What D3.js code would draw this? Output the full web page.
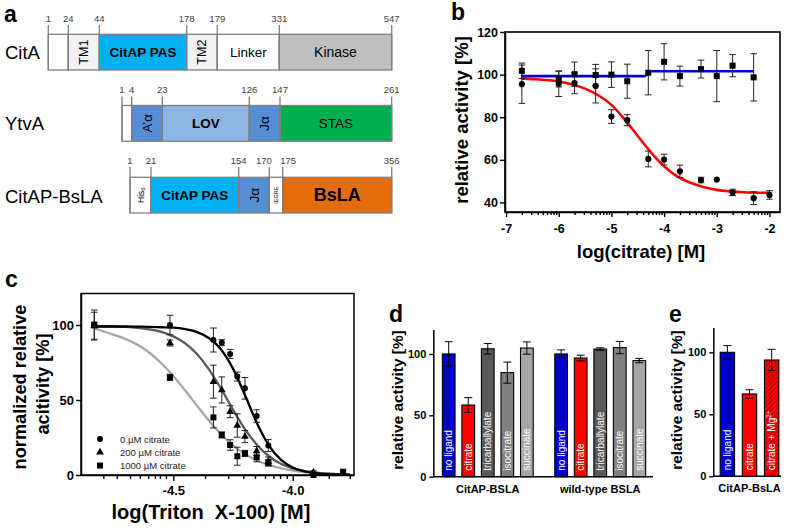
<!DOCTYPE html>
<html>
<head>
<meta charset="utf-8">
<script src="https://cdn.jsdelivr.net/npm/d3@7"></script>
<style>
body { margin: 0; background: #fff; }
svg { display: block; font-family: "Liberation Sans", Arial, sans-serif; }
</style>
</head>
<body>
<svg id="fig" width="787" height="531"></svg>
<script>
// ---------- data ----------
// a: domain architecture (residue numbers at domain borders)
var citaBounds = [1, 24, 44, 178, 179, 331, 547];
var citaDomains = ["", "TM1", "CitAP PAS", "TM2", "Linker", "Kinase"];
var ytvaBounds = [1, 4, 23, 126, 147, 261];
var ytvaDomains = ["", "A\u2019\u03b1", "LOV", "J\u03b1", "STAS"];
var fusionBounds = [1, 21, 154, 170, 175, 356];
var fusionDomains = ["His6", "CitAP PAS", "J\u03b1", "IEGRE", "BsLA"];

// b: activity vs log(citrate)
var bLogX = [-6.7, -6, -5.7, -5.3, -5, -4.7, -4.3, -4, -3.7, -3.3, -3, -2.7, -2.3, -2];
var bFusionVals = [95.5, 95.7, 96, 94.7, 80.3, 78.6, 60.4, 60.1, 54.6, 50.5, 50.7, 44.7, 42, 43.5];
var bFusionErr = [9, 6, 5, 8, 3.2, 2.6, 3.7, 2.5, 2.9, 1.3, 0, 1.5, 3, 2];
var bWtVals = [101.8, 97.9, 100.2, 99.8, 100, 96.9, 100.9, 106, 99.3, 102.6, 99.3, 104.2, 98.7];
var bWtErr = [3.6, 3.7, 5.7, 5, 6, 8, 10.4, 8.5, 4.7, 4.2, 12, 5.2, 11.1];
var bFusionFitX = [-6.7, -6.5, -6, -5.5, -5.25, -5, -4.75, -4.5, -4.25, -4, -3.75, -3.5, -3.25, -3, -2.5, -2];
var bFusionFitY = [98.1, 97.9, 96.8, 93.4, 90.3, 85.8, 79.0, 71.2, 63.5, 57.0, 52.2, 49.2, 47.2, 45.9, 44.8, 44.5];
var bWtFitX = [-6.7, -4.37, -4.27, -2.3];
var bWtFitY = [99.3, 99.3, 101.6, 101.6];
var bXTicks = [-7, -6, -5, -4, -3, -2];
var bYTicks = [40, 60, 80, 100, 120];

// c: activity vs log(Triton X-100)
var cLogX = [-4.831, -4.514, -4.332, -4.297, -4.262, -4.232, -4.2, -4.151, -4.102, -3.913];
var cSqLogX = [-4.831, -4.514, -4.332, -4.297, -4.262, -4.232, -4.2, -4.151, -4.102, -3.913, -3.789];
var c0Vals = [100, 100, 90, 88.2, 80.7, 65.6, 57.8, 39.3, 19.6, 0.5];
var c0Err = [10, 6.5, 8, 2, 3, 3, 7.2, 4.2, 4, 0.5];
var c200Vals = [99.5, 88, 62.2, 56.7, 42.2, 33, 25.6, 16, 9, 1.8];
var c200Err = [9, 2, 11, 8.7, 4, 7.8, 4, 3, 3, 1];
var c1000Vals = [100, 65.1, 38.4, 26.7, 20, 12.5, 14.4, 11.8, 8.2, 0, 2.2];
var c1000Err = [2, 2, 7, 2, 3.5, 6, 2, 3, 2, 0, 1];
var cFitX = [-4.83, -4.75, -4.7, -4.65, -4.6, -4.55, -4.5, -4.45, -4.4, -4.35, -4.3, -4.25, -4.2, -4.15, -4.1, -4.05, -4.0, -3.95, -3.9, -3.85, -3.76];
var c0Fit = [99, 99, 99, 98.9, 98.8, 98.5, 98.2, 97.2, 95.3, 91.2, 83.7, 70.9, 53.3, 34.7, 19.8, 10.2, 5.0, 2.4, 1.1, 0.5, 0.1];
var c200Fit = [99.3, 99.0, 98.7, 98.1, 97.1, 95.4, 92.4, 87.7, 80.5, 70.3, 57.5, 43.6, 30.6, 20.1, 12.5, 7.5, 4.4, 2.6, 1.5, 0.9, 0.3];
var c1000Fit = [97.8, 93.5, 90.7, 86.8, 81.5, 74.5, 66.0, 56.3, 46.1, 36.0, 27.2, 19.8, 14.0, 9.7, 6.7, 4.5, 3.0, 2.0, 1.3, 0.9, 0.4];
var cLegend = ["0 \u00b5M citrate", "200 \u00b5M citrate", "1000 \u00b5M citrate"];
var cXTicks = [-4.5, -4.0];
var cXMinor = [-4.793, -4.737, -4.681, -4.640, -4.605, -4.577, -4.556, -4.531,
               -4.367, -4.270, -4.207, -4.158, -4.116, -4.081, -4.053, -4.025, -3.849, -3.761];
var cYTicks = [0, 50, 100];

// d: ligand specificity
var dGroups = ["CitAP-BSLA", "wild-type BSLA"];
var dLigands = ["no ligand", "citrate", "tricarballylate", "isocitrate", "succinate"];
var dFusionVals = [100, 58.4, 104.2, 84.8, 104.8];
var dFusionErr = [10, 6, 4.3, 8.6, 5];
var dWtVals = [100, 96.7, 104, 105.2, 94.6];
var dWtErr = [3.3, 2.3, 1, 5, 1.8];

// e: Mg2+ effect
var eGroup = "CitAP-BsLA";
var eLigands = ["no ligand", "citrate", "citrate + Mg2+"];
var eVals = [100, 66.4, 93.8];
var eErr = [5.4, 3.4, 8.6];
var barYTicks = [0, 50, 100];

// ---------- helpers ----------
var svg = d3.select("#fig");
var defs = svg.append("defs");
var hatch = defs.append("pattern").attr("id", "hatch")
    .attr("patternUnits", "userSpaceOnUse").attr("width", 3.2).attr("height", 3.2)
    .attr("patternTransform", "rotate(45)");
hatch.append("rect").attr("width", 3.2).attr("height", 3.2).attr("fill", "#ff0000");
hatch.append("line").attr("x1", 0).attr("y1", 0).attr("x2", 0).attr("y2", 3.2)
    .attr("stroke", "#8b0000").attr("stroke-width", 1.3);

function panelLetter(t, x, y) {
    svg.append("text").attr("x", x).attr("y", y).attr("font-size", 23)
        .attr("font-weight", "bold").text(t);
}

function styleAxis(g, size) {
    g.attr("font-family", null).attr("font-size", size).attr("font-weight", "bold");
    g.selectAll("text").attr("fill", "#000");
    g.selectAll("line").attr("stroke", "#000").attr("stroke-width", 1.4);
    g.select(".domain").attr("stroke", "#000").attr("stroke-width", 1.5);
}

function errorBars(g, pts, x, y, cap, color) {
    var eb = g.append("g").attr("stroke", color || "#000").attr("stroke-width", 1).attr("fill", "none");
    pts.filter(function(p) { return p.e > 0; }).forEach(function(p) {
        var cx = x(p.x), y1 = y(p.v - p.e), y2 = y(p.v + p.e);
        eb.append("line").attr("x1", cx).attr("x2", cx).attr("y1", y1).attr("y2", y2);
        eb.append("line").attr("x1", cx - cap).attr("x2", cx + cap).attr("y1", y1).attr("y2", y1);
        eb.append("line").attr("x1", cx - cap).attr("x2", cx + cap).attr("y1", y2).attr("y2", y2);
    });
}

function zip(xs, vs, es) {
    return vs.map(function(v, i) { return {x: xs[i], v: v, e: es ? es[i] : 0}; });
}

function rotLabel(text, x, y, size) {
    return svg.append("text").attr("transform", "translate(" + x + "," + y + ") rotate(-90)")
        .attr("text-anchor", "middle").attr("font-size", size).attr("font-weight", "bold")
        .text(text);
}

// ---------- panel a ----------
panelLetter("a", 4, 22);

var domainStyle = {
    "":          {fill: "#ffffff"},
    "TM1":       {fill: "#f2f2f2", size: 12.5, rot: true},
    "TM2":       {fill: "#f2f2f2", size: 12.5, rot: true},
    "CitAP PAS": {fill: "#00b0f0", size: 13.5, bold: true},
    "Linker":    {fill: "#ffffff", size: 13.5},
    "Kinase":    {fill: "#bfbfbf", size: 14},
    "A\u2019\u03b1": {fill: "#558ed5", size: 13, rot: true},
    "LOV":       {fill: "#8eb4e3", size: 13.5, bold: true},
    "J\u03b1":   {fill: "#558ed5", size: 13.5, rot: true},
    "STAS":      {fill: "#00b050", size: 13.5},
    "His6":      {fill: "#ffffff", size: 8.5, rot: true},
    "IEGRE":     {fill: "#ffffff", size: 5.5, rot: true},
    "BsLA":      {fill: "#e46c0a", size: 18, bold: true}
};

var proteins = [
    {name: "CitA", bounds: citaBounds, domains: citaDomains,
     xs: [48.3, 68.3, 99.3, 186.7, 217.3, 279.3, 391.7], top: 34.3, numY: 21.5, tickTop: 25, nameY: 59},
    {name: "YtvA", bounds: ytvaBounds, domains: ytvaDomains,
     xs: [122, 131.7, 162.3, 249.3, 280, 391.7], top: 105.5, numY: 93, tickTop: 96.5, nameY: 130},
    {name: "CitAP-BsLA", bounds: fusionBounds, domains: fusionDomains,
     xs: [130, 151, 238.7, 269.3, 282.7, 391.7], top: 177.3, numY: 163.5, tickTop: 167, nameY: 203}
];
var barH = 35.7;

proteins.forEach(function(p) {
    var sx = d3.scaleLinear().domain(p.bounds).range(p.xs);
    var g = svg.append("g");
    g.append("text").attr("x", 5).attr("y", p.nameY).attr("font-size", 18.5).text(p.name);

    p.domains.forEach(function(dn, i) {
        var st = domainStyle[dn];
        var x0 = sx(p.bounds[i]), x1 = sx(p.bounds[i + 1]);
        g.append("rect").attr("x", x0).attr("y", p.top).attr("width", x1 - x0).attr("height", barH)
            .attr("fill", st.fill).attr("stroke", "#7f7f7f").attr("stroke-width", 1.3);
        if (!dn) return;
        var cx = (x0 + x1) / 2, cy = p.top + barH / 2;
        var t = g.append("text").attr("text-anchor", "middle").attr("dominant-baseline", "central")
            .attr("font-size", st.size).attr("font-weight", st.bold ? "bold" : "normal")
            .attr("transform", "translate(" + cx + "," + cy + ")" + (st.rot ? " rotate(-90)" : ""));
        if (dn === "His6") {
            t.append("tspan").text("His");
            t.append("tspan").attr("font-size", 6).attr("dy", 2.5).text("6");
        } else {
            t.text(dn);
        }
    });

    p.bounds.forEach(function(b, i) {
        var x = sx(b);
        g.append("line").attr("x1", x).attr("x2", x).attr("y1", p.tickTop).attr("y2", p.top + barH)
            .attr("stroke", "#7f7f7f").attr("stroke-width", 1.3);
        // close neighbours: push the two numbers apart
        var anchor = "middle", nx = x;
        var nextGap = i < p.bounds.length - 1 ? sx(p.bounds[i + 1]) - x : 99;
        var prevGap = i > 0 ? x - sx(p.bounds[i - 1]) : 99;
        if (nextGap < 18 && String(b).length > 1) { anchor = "end"; nx = x + 2.5; }
        else if (prevGap < 18 && String(b).length > 1) { anchor = "start"; nx = x - 2.5; }
        g.append("text").attr("x", nx).attr("y", p.numY).attr("text-anchor", anchor)
            .attr("font-size", 9.5).attr("fill", "#404040").text(b);
    });
});

// ---------- panel b ----------
panelLetter("b", 451, 20);
var bx = d3.scaleLog().domain([Math.pow(10, -7.02), Math.pow(10, -1.8)]).range([505, 780]);
var by = d3.scaleLinear().domain([35.5, 120]).range([212, 32]);
var bxl = function(lx) { return bx(Math.pow(10, lx)); };
var gb = svg.append("g");

var gbx = gb.append("g").attr("transform", "translate(0,212)")
    .call(d3.axisBottom(bx).tickValues(bXTicks.map(function(v) { return Math.pow(10, v); }))
        .tickSize(5).tickPadding(7).tickSizeOuter(0)
        .tickFormat(function(d) { return String(Math.round(Math.log10(d))); }));
styleAxis(gbx, 12.5);
var bMinor = bx.ticks().filter(function(d) {
    var l = Math.log10(d);
    return Math.abs(l - Math.round(l)) > 1e-6;
});
var gbm = gb.append("g").attr("transform", "translate(0,212)")
    .call(d3.axisBottom(bx).tickValues(bMinor).tickSize(3).tickFormat(""));
styleAxis(gbm, 10);
gbm.select(".domain").remove();

var gby = gb.append("g").attr("transform", "translate(505,0)")
    .call(d3.axisLeft(by).tickValues(bYTicks).tickSize(5).tickPadding(2).tickSizeOuter(0));
styleAxis(gby, 12.5);
gb.append("rect").attr("x", 505).attr("y", 32).attr("width", 275).attr("height", 180)
    .attr("fill", "none").attr("stroke", "#000").attr("stroke-width", 1.6);

var bLine = d3.line().x(function(d) { return bxl(d[0]); }).y(function(d) { return by(d[1]); })
    .curve(d3.curveMonotoneX);
gb.append("path").datum(d3.zip(bFusionFitX, bFusionFitY)).attr("d", bLine)
    .attr("fill", "none").attr("stroke", "#ff0000").attr("stroke-width", 2.6);
gb.append("path").datum(d3.zip(bWtFitX, bWtFitY)).attr("d", bLine)
    .attr("fill", "none").attr("stroke", "#0000cc").attr("stroke-width", 2.6);

var bFus = zip(bLogX, bFusionVals, bFusionErr);
var bWt = zip(bLogX, bWtVals, bWtErr);
errorBars(gb, bFus, bxl, by, 3.3, "#222");
errorBars(gb, bWt, bxl, by, 3.3, "#222");
gb.selectAll(".bc").data(bFus).enter().append("circle")
    .attr("cx", function(d) { return bxl(d.x); }).attr("cy", function(d) { return by(d.v); })
    .attr("r", 3.1).attr("fill", "#000");
gb.selectAll(".bs").data(bWt).enter().append("rect")
    .attr("x", function(d) { return bxl(d.x) - 3; }).attr("y", function(d) { return by(d.v) - 3; })
    .attr("width", 6).attr("height", 6).attr("fill", "#000");

svg.append("text").attr("x", 641).attr("y", 258).attr("text-anchor", "middle")
    .attr("font-size", 18.5).attr("font-weight", "bold").text("log(citrate) [M]");
rotLabel("relative activity [%]", 468, 120, 18.5);

// ---------- panel c ----------
panelLetter("c", 5, 287);
var cx = d3.scaleLinear().domain([-4.8865, -3.7433]).range([81, 354]);
var cy = d3.scaleLinear().domain([0, 121]).range([475, 293.5]);
var gc = svg.append("g");

var gcx = gc.append("g").attr("transform", "translate(0,475)")
    .call(d3.axisBottom(cx).tickValues(cXTicks).tickSize(6).tickPadding(5).tickSizeOuter(0)
        .tickFormat(function(d) { return d.toFixed(1); }));
styleAxis(gcx, 13);
var gcm = gc.append("g").attr("transform", "translate(0,475)")
    .call(d3.axisBottom(cx).tickValues(cXMinor).tickSize(4).tickFormat(""));
styleAxis(gcm, 10);
gcm.select(".domain").remove();
var gcy = gc.append("g").attr("transform", "translate(81,0)")
    .call(d3.axisLeft(cy).tickValues(cYTicks).tickSize(5).tickPadding(2).tickSizeOuter(0));
styleAxis(gcy, 13);
gc.append("rect").attr("x", 81).attr("y", 293.5).attr("width", 273).attr("height", 181.5)
    .attr("fill", "none").attr("stroke", "#000").attr("stroke-width", 1.5);

var cLine = d3.line().x(function(d) { return cx(d[0]); }).y(function(d) { return cy(d[1]); })
    .curve(d3.curveMonotoneX);
[[c1000Fit, "#a6a6a6"], [c200Fit, "#595959"], [c0Fit, "#000"]].forEach(function(f) {
    gc.append("path").datum(d3.zip(cFitX, f[0])).attr("d", cLine)
        .attr("fill", "none").attr("stroke", f[1]).attr("stroke-width", 2.3);
});

var c0 = zip(cLogX, c0Vals, c0Err), c200 = zip(cLogX, c200Vals, c200Err), c1000 = zip(cSqLogX, c1000Vals, c1000Err);
errorBars(gc, c0, cx, cy, 3.3, "#222");
errorBars(gc, c200, cx, cy, 3.3, "#222");
errorBars(gc, c1000, cx, cy, 3.3, "#222");
var tri = d3.symbol(d3.symbolTriangle).size(26);
function drawMarker(g, kind, x, y) {
    if (kind === 0) g.append("circle").attr("cx", x).attr("cy", y).attr("r", 3).attr("fill", "#000");
    else if (kind === 1) g.append("path").attr("d", tri()).attr("transform", "translate(" + x + "," + y + ")").attr("fill", "#000");
    else g.append("rect").attr("x", x - 3).attr("y", y - 3).attr("width", 6).attr("height", 6).attr("fill", "#000");
}
[c0, c200, c1000].forEach(function(s, k) {
    s.forEach(function(d) { drawMarker(gc, k, cx(d.x), cy(d.v)); });
});

cLegend.forEach(function(txt, i) {
    var ly = 439 + i * 13.3;
    drawMarker(gc, i, 100, ly);
    gc.append("text").attr("x", 120).attr("y", ly).attr("dominant-baseline", "central")
        .attr("font-size", 9.5).attr("fill", "#222").text(txt);
});

svg.append("text").attr("x", 211).attr("y", 519).attr("text-anchor", "middle")
    .attr("xml:space", "preserve").style("white-space", "pre")
    .attr("font-size", 20).attr("font-weight", "bold").text("log(Triton  X-100) [M]");
rotLabel("normalized relative", 26, 387, 18.2);
rotLabel("acitivity [%]", 49, 384, 18.2);

// ---------- bar panels d, e ----------
function barPanel(opts) {
    var g = svg.append("g");
    var y = d3.scaleLinear().domain([0, 120]).range([opts.y0, opts.yTop]);
    var x0 = d3.scaleBand().domain(opts.groups).range(opts.range).paddingInner(opts.groupPad || 0);
    var gy = g.append("g").attr("transform", "translate(" + opts.axisX + ",0)")
        .call(d3.axisLeft(y).tickValues(barYTicks).tickSize(4).tickPadding(3).tickSizeOuter(0));
    styleAxis(gy, 11);
    g.append("line").attr("x1", opts.axisX).attr("x2", opts.axisEnd).attr("y1", opts.y0).attr("y2", opts.y0)
        .attr("stroke", "#000").attr("stroke-width", 1.5);

    opts.groups.forEach(function(grp, gi) {
        var x1 = d3.scaleBand().domain(opts.ligands).range([x0(grp), x0(grp) + x0.bandwidth()])
            .paddingInner(0.35).paddingOuter(0.12);
        var vals = opts.vals[gi], errs = opts.errs[gi];
        opts.ligands.forEach(function(lig, i) {
            var bx0 = x1(lig), w = x1.bandwidth(), mid = bx0 + w / 2;
            g.append("rect").attr("x", bx0).attr("y", y(vals[i])).attr("width", w)
                .attr("height", opts.y0 - y(vals[i])).attr("fill", opts.fills[i])
                .attr("stroke", "#000").attr("stroke-width", 1.1);
            errorBars(g, [{x: mid, v: vals[i], e: errs[i]}], function(v) { return v; }, y, 4, "#000");
            var t = g.append("text").attr("transform", "translate(" + (mid + 3.6) + "," + (opts.y0 - 6) + ") rotate(-90)")
                .attr("font-size", 10).attr("fill", "#fff");
            if (lig === "citrate + Mg2+") {
                t.append("tspan").text("citrate + Mg");
                t.append("tspan").attr("font-size", 6.5).attr("dy", -4).text("2+");
            } else {
                t.text(lig);
            }
        });
        g.append("text").attr("x", x0(grp) + x0.bandwidth() / 2).attr("y", opts.y0 + 16)
            .attr("text-anchor", "middle").attr("font-size", 11).attr("font-weight", "bold").text(grp);
    });
}

panelLetter("d", 389, 322);
barPanel({
    groups: dGroups, ligands: dLigands, vals: [dFusionVals, dWtVals], errs: [dFusionErr, dWtErr],
    fills: ["#0000cc", "#ff0000", "#595959", "#808080", "#a6a6a6"],
    range: [440, 648], groupPad: 0.15, axisX: 433.3, axisEnd: 653, y0: 476.7, yTop: 329.4
});
rotLabel("relative activity [%]", 403, 400, 15.4);

panelLetter("e", 669, 322);
barPanel({
    groups: [eGroup], ligands: eLigands, vals: [eVals], errs: [eErr],
    fills: ["#0000cc", "#ff0000", "url(#hatch)"],
    range: [717.5, 781.5], axisX: 713.3, axisEnd: 781, y0: 476.3, yTop: 327.5
});
rotLabel("relative activity [%]", 682, 400, 15.4);
</script>
</body>
</html>
